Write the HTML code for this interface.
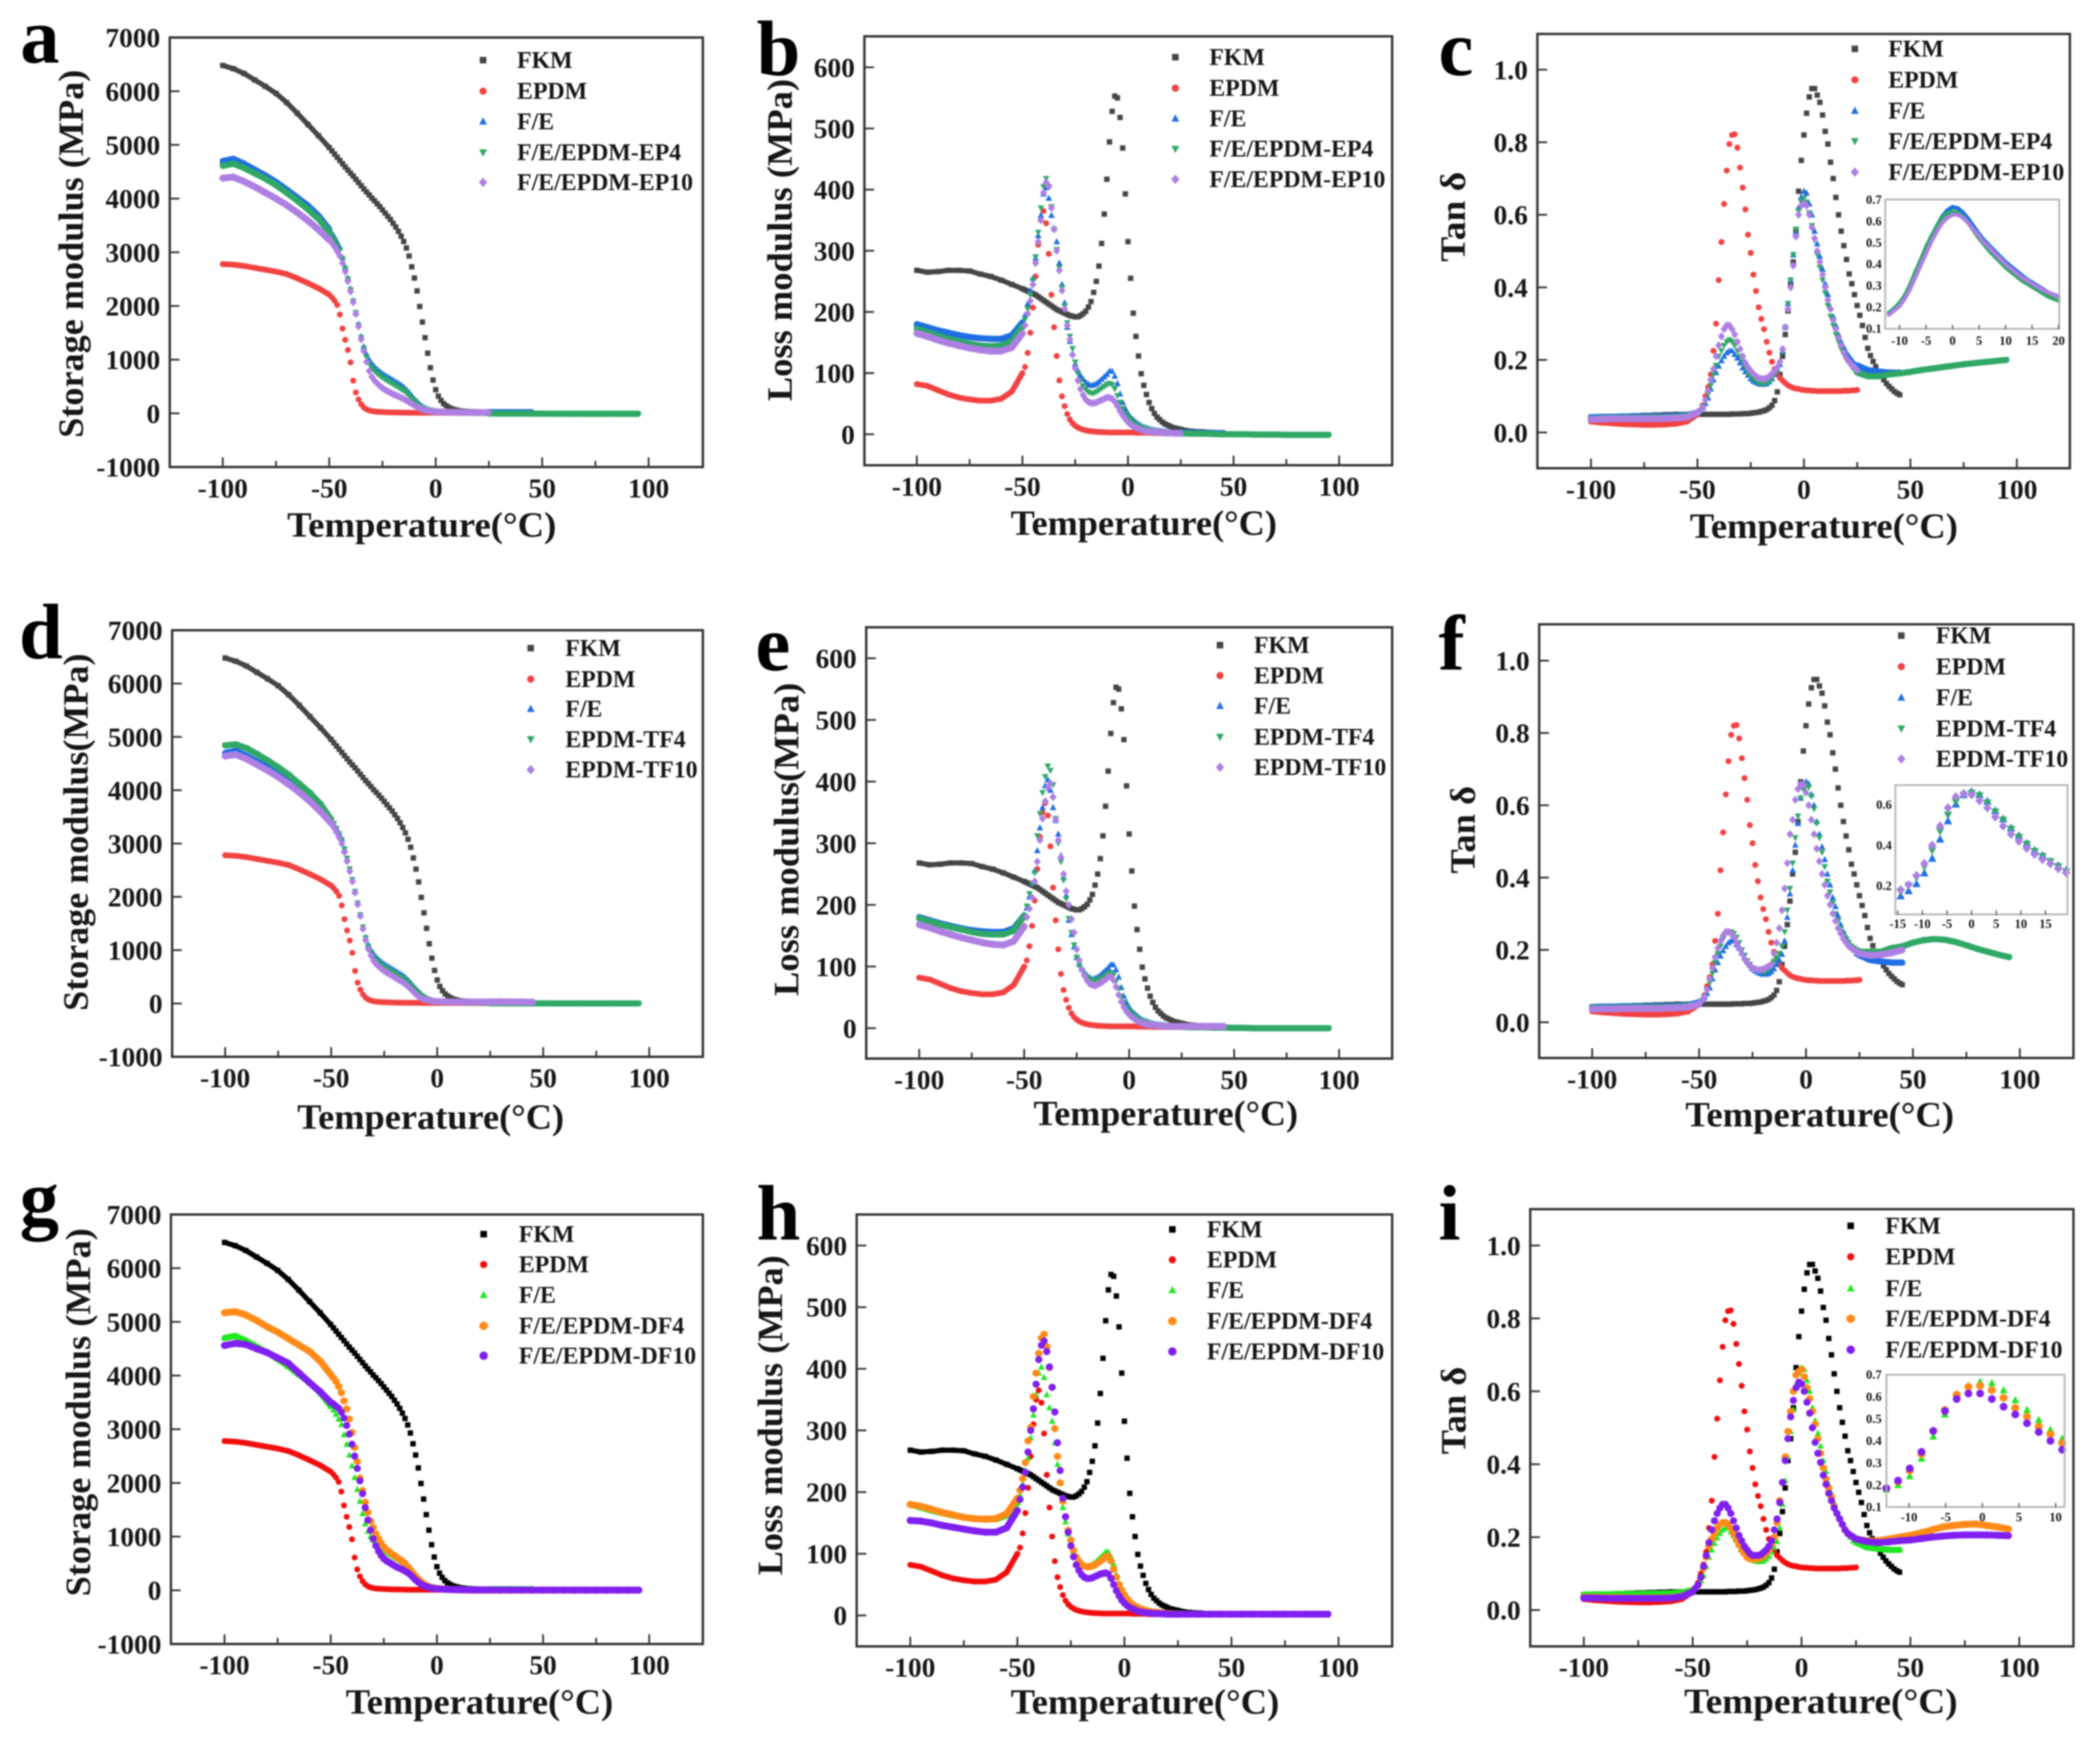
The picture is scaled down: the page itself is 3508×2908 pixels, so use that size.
<!DOCTYPE html>
<html lang="en">
<head>
<meta charset="utf-8">
<title>Dynamic mechanical analysis of FKM/EPDM blends</title>
<style>
html,body{margin:0;padding:0;background:#fff;width:3508px;height:2908px;overflow:hidden}
#figure{display:block;filter:blur(1.3px)}
text{font-family:"Liberation Serif","Noto Serif CJK SC",serif;font-weight:bold;fill:#161616}
.letter{font-size:132px;fill:#000}
.title{font-size:60px;text-anchor:middle}
.legend{font-size:40px}
</style>
</head>
<body>
<svg id="figure" xmlns="http://www.w3.org/2000/svg" width="3508" height="2908" viewBox="0 0 3508 2908">
<rect x="0" y="0" width="3508" height="2908" fill="#fff"/>

<g id="panel-a" transform="scale(0.995)">
<text class="letter" x="34" y="105">a</text>
<text class="title" transform="translate(119,426) rotate(-90)" dy="20" textLength="618" lengthAdjust="spacingAndGlyphs">Storage modulus (MPa)</text>
<text class="title" x="708" y="901" textLength="452" lengthAdjust="spacingAndGlyphs">Temperature(°C)</text>
<text class="legend" x="868" y="114">FKM</text>
<text class="legend" x="868" y="166">EPDM</text>
<text class="legend" x="868" y="217">F/E</text>
<text class="legend" x="868" y="269">F/E/EPDM-EP4</text>
<text class="legend" x="868" y="319">F/E/EPDM-EP10</text>
</g>

<g id="panel-b" transform="translate(1240,0) scale(0.995) translate(-1240,0)">
<text class="letter" x="1264" y="126">b</text>
<text class="title" transform="translate(1303,403) rotate(-90)" dy="20" textLength="541" lengthAdjust="spacingAndGlyphs">Loss modulus (MPa)</text>
<text class="title" x="1914" y="898" textLength="447" lengthAdjust="spacingAndGlyphs">Temperature(°C)</text>
<text class="legend" x="2024" y="109">FKM</text>
<text class="legend" x="2024" y="161">EPDM</text>
<text class="legend" x="2024" y="212">F/E</text>
<text class="legend" x="2024" y="263">F/E/EPDM-EP4</text>
<text class="legend" x="2024" y="314">F/E/EPDM-EP10</text>
</g>

<g id="panel-c" transform="translate(2400,0) scale(0.995) translate(-2400,0)">
<text class="letter" x="2403" y="126">c</text>
<text class="title" transform="translate(2427,364) rotate(-90)" dy="20" textLength="151" lengthAdjust="spacingAndGlyphs">Tan δ</text>
<text class="title" x="3050" y="903" textLength="450" lengthAdjust="spacingAndGlyphs">Temperature(°C)</text>
<text class="legend" x="3158" y="95">FKM</text>
<text class="legend" x="3158" y="147">EPDM</text>
<text class="legend" x="3158" y="199">F/E</text>
<text class="legend" x="3158" y="250">F/E/EPDM-EP4</text>
<text class="legend" x="3158" y="302">F/E/EPDM-EP10</text>
</g>

<g id="panel-d" transform="translate(0,1000) scale(0.995) translate(0,-1000)">
<text class="letter" x="32" y="1100">d</text>
<text class="title" transform="translate(127,1392) rotate(-90)" dy="20" textLength="600" lengthAdjust="spacingAndGlyphs">Storage modulus(MPa)</text>
<text class="title" x="723" y="1890" textLength="448" lengthAdjust="spacingAndGlyphs">Temperature(°C)</text>
<text class="legend" x="949" y="1096">FKM</text>
<text class="legend" x="949" y="1148">EPDM</text>
<text class="legend" x="949" y="1198">F/E</text>
<text class="legend" x="949" y="1249">EPDM-TF4</text>
<text class="legend" x="949" y="1300">EPDM-TF10</text>
</g>

<g id="panel-e" transform="translate(1240,1000) scale(0.995) translate(-1240,-1000)">
<text class="letter" x="1262" y="1120">e</text>
<text class="title" transform="translate(1314,1404) rotate(-90)" dy="20" textLength="526" lengthAdjust="spacingAndGlyphs">Loss modulus(MPa)</text>
<text class="title" x="1951" y="1884" textLength="444" lengthAdjust="spacingAndGlyphs">Temperature(°C)</text>
<text class="legend" x="2099" y="1091">FKM</text>
<text class="legend" x="2099" y="1142">EPDM</text>
<text class="legend" x="2099" y="1193">F/E</text>
<text class="legend" x="2099" y="1245">EPDM-TF4</text>
<text class="legend" x="2099" y="1296">EPDM-TF10</text>
</g>

<g id="panel-f" transform="translate(2400,1000) scale(0.995) translate(-2400,-1000)">
<text class="letter" x="2403" y="1119">f</text>
<text class="title" transform="translate(2444,1388) rotate(-90)" dy="20" textLength="147" lengthAdjust="spacingAndGlyphs">Tan δ</text>
<text class="title" x="3043" y="1886" textLength="451" lengthAdjust="spacingAndGlyphs">Temperature(°C)</text>
<text class="legend" x="3238" y="1075">FKM</text>
<text class="legend" x="3238" y="1127">EPDM</text>
<text class="legend" x="3238" y="1179">F/E</text>
<text class="legend" x="3238" y="1231">EPDM-TF4</text>
<text class="legend" x="3238" y="1282">EPDM-TF10</text>
</g>

<g id="panel-g" transform="translate(0,1948) scale(0.995) translate(0,-1948)">
<text class="letter" x="33" y="2046">g</text>
<text class="title" transform="translate(131,2361) rotate(-90)" dy="20" textLength="618" lengthAdjust="spacingAndGlyphs">Storage modulus (MPa)</text>
<text class="title" x="805" y="2867" textLength="449" lengthAdjust="spacingAndGlyphs">Temperature(°C)</text>
<text class="legend" x="871" y="2075">FKM</text>
<text class="legend" x="871" y="2126">EPDM</text>
<text class="legend" x="871" y="2177">F/E</text>
<text class="legend" x="871" y="2229">F/E/EPDM-DF4</text>
<text class="legend" x="871" y="2279">F/E/EPDM-DF10</text>
</g>

<g id="panel-h" transform="translate(1240,1950) scale(0.995) translate(-1240,-1950)">
<text class="letter" x="1264" y="2071">h</text>
<text class="title" transform="translate(1287,2366) rotate(-90)" dy="20" textLength="537" lengthAdjust="spacingAndGlyphs">Loss modulus (MPa)</text>
<text class="title" x="1916" y="2867" textLength="451" lengthAdjust="spacingAndGlyphs">Temperature(°C)</text>
<text class="legend" x="2020" y="2067">FKM</text>
<text class="legend" x="2020" y="2118">EPDM</text>
<text class="legend" x="2020" y="2169">F/E</text>
<text class="legend" x="2020" y="2221">F/E/EPDM-DF4</text>
<text class="legend" x="2020" y="2272">F/E/EPDM-DF10</text>
</g>

<g id="panel-i" transform="translate(2400,1950) scale(0.995) translate(-2400,-1950)">
<text class="letter" x="2403" y="2071">i</text>
<text class="title" transform="translate(2428,2358) rotate(-90)" dy="20" textLength="147" lengthAdjust="spacingAndGlyphs">Tan δ</text>
<text class="title" x="3045" y="2866" textLength="459" lengthAdjust="spacingAndGlyphs">Temperature(°C)</text>
<text class="legend" x="3153" y="2061">FKM</text>
<text class="legend" x="3153" y="2113">EPDM</text>
<text class="legend" x="3153" y="2166">F/E</text>
<text class="legend" x="3153" y="2217">F/E/EPDM-DF4</text>
<text class="legend" x="3153" y="2269">F/E/EPDM-DF10</text>
</g>
</svg>

<script>
// ---- temperature categories (°C) ----
const tempGrid = [-100,-95,-90,-85,-80,-75,-70,-65,-60,-55,
 -50, -48.75,-47.5,-46.25,-45, -43.75,-42.5,-41.25,-40, -38.75,-37.5,-36.25,-35, -33.75,-32.5,-31.25,-30,
 -28.75,-27.5,-26.25,-25, -23.75,-22.5,-21.25,-20, -18.75,-17.5,-16.25,-15, -13.75,-12.5,-11.25,-10,
 -8.75,-7.5,-6.25,-5, -3.75,-2.5,-1.25,0, 1.25,2.5,3.75,5, 6.25,7.5,8.75,10, 11.25,12.5,13.75,15,
 16.25,17.5,18.75,20, 21.25,22.5,23.75,25,
 30,35,40,45,50,55,60,65,70,75,80,85,90,95];
const fkmTanTemps = [-100,-95,-90,-85,-80,-75,-70,-65,-60,-55,
 -50, -48.75,-47.5,-46.25,-45, -43.75,-42.5,-41.25,-40, -38.75,-37.5,-36.25,-35, -33.75,-32.5,-31.25,-30,
 -28.75,-27.5,-26.25,-25, -23.75,-22.5,-21.25,-20, -18.75,-17.5,-16.25,-15, -13.75,-12.5,-11.25,-10,
 -8.75,-7.5,-6.25,-5, -3.75,-2.5,-1.25,0, 1.25,2.5,3.75,5, 6.25,7.5,8.75,10, 11.25,12.5,13.75,15,
 16.25,17.5,18.75,20, 21.25,22.5,23.75,25,
 26.25,27.5,28.75,30, 31.25,32.5,33.75,35, 36.25,37.5,38.75,40, 41.25,42.5,43.75,45];

// ---- tick values and labels ----
const xTicks = [-100,-50,0,50,100];
const xTickLabels = ['-100','-50','0','50','100'];
const xMinorTicks = [-75,-25,25,75];
const storageTicks = [-1000,0,1000,2000,3000,4000,5000,6000,7000];
const storageTickLabels = ['-1000','0','1000','2000','3000','4000','5000','6000','7000'];
const lossTicks = [0,100,200,300,400,500,600];
const lossTickLabels = ['0','100','200','300','400','500','600'];
const tanTicks = [0,0.2,0.4,0.6,0.8,1.0];
const tanTickLabels = ['0.0','0.2','0.4','0.6','0.8','1.0'];

// ---- storage modulus series (MPa) ----
const fkmStorage = [6480,6420,6330,6210,6090,5960,5790,5590,5380,5170,
 4950, 4890,4830,4770,4710, 4650,4590,4530,4475, 4420,4360,4300,4240, 4180,4125,4070,4010,
 3960,3905,3850,3790, 3730,3670,3610,3540, 3470,3390,3300,3200, 3080,2930,2730,2520,
 2280,1990,1700,1410, 1120,850,620,440, 320,240,180,140, 110,85,70,58, 48,42,36,32, 28,25,22,20, 19,18,17,16,
 14,13,12,11];
const epdmStorage = [2780,2770,2745,2710,2675,2640,2595,2515,2425,2330,
 2210, 2160,2100,2020,1840, 1580,1370,1180,950, 610,390,260,170, 110,75,55,42,
 35,30,27,25, 22,20,18,17, 16,15,14,13, 12,12,11,11, 11,10,10,10, 10,10,10,10, 10,10,10,10, 10,10,10,10, 10,10,10,10, 10,10,10,10, 10,10,10,10];
const feStorage = [4700,4740,4650,4540,4430,4310,4170,4020,3870,3680,
 3430, 3360,3280,3190,3090, 2900,2720,2520,2320, 2100,1880,1660,1430, 1240,1100,1000,930,
 870,820,780,740, 710,680,650,620, 590,560,530,490, 440,390,330,270,
 220,170,130,100, 80,65,55,48, 42,38,35,33, 31,30,29,28, 27,26,25,25, 24,24,23,23, 22,22,22,22,
 21,21,20,20];
const ep4Storage = [4610,4650,4570,4470,4370,4250,4110,3960,3800,3620,
 3380, 3310,3230,3140,3040, 2880,2700,2500,2300, 2090,1870,1640,1410, 1210,1050,930,850,
 790,740,700,660, 630,600,570,540, 510,480,450,420, 380,330,280,230,
 180,140,105,80, 62,50,42,36, 30,26,22,18, 15,12,10,8, 6,5,4,3, 2,1,0,0, -1,-1,-2,-2,
 -3,-4,-5,-6,-6,-7,-7,-8,-8,-8,-8,-8,-8,-8];
const ep10Storage = [4380,4400,4320,4220,4110,4000,3880,3740,3590,3420,
 3230, 3170,3100,3020,2930, 2800,2640,2460,2270, 2070,1850,1620,1380, 1160,960,790,680,
 610,560,510,470, 440,410,385,360, 335,315,290,270, 240,210,180,150,
 120,95,75,60, 48,40,34,30, 28,26,25,24, 23,22,21,20, 19,18,18,17, 17,16,16,16, 15,15,15,15];
const tf4Storage = [4840,4860,4790,4680,4560,4430,4290,4120,3950,3740,
 3450, 3370,3280,3180,3070, 2900,2720,2520,2320, 2100,1880,1660,1430, 1230,1070,960,870,
 810,760,720,680, 650,620,590,560, 530,500,470,430, 390,340,290,240,
 190,150,115,85, 65,50,40,32, 30,28,26,24, 22,20,18,16, 14,12,10,9, 8,7,6,5, 4,4,3,3,
 3,2,2,2,2,1,1,1,1,0,0,0,0,0];
const tf10Storage = [4640,4670,4590,4480,4370,4250,4110,3960,3790,3600,
 3380, 3300,3210,3110,3000, 2840,2670,2480,2290, 2080,1860,1640,1400, 1190,1020,900,800,
 740,690,650,610, 580,550,520,490, 460,430,400,360, 320,270,220,170,
 130,100,80,65, 55,48,42,38, 36,35,34,33, 32,32,31,31, 30,30,30,30, 30,30,30,30, 30,30,30,30,
 30,30,28,25];
const df4Storage = [5170,5190,5130,5030,4910,4810,4690,4570,4450,4270,
 4020, 3960,3890,3800,3680, 3530,3380,3190,2940, 2660,2400,2090,1860, 1640,1450,1290,1170,
 1050,960,880,810, 760,720,680,650, 610,580,540,500, 440,380,320,260,
 210,165,125,95, 70,55,42,35, 30,26,22,19, 16,14,12,10, 9,8,7,6, 5,5,4,4, 3,3,3,3,
 2,2,2,2,2,2,2,2,2,2,2,2,2,2];
const df10Storage = [4560,4600,4580,4500,4430,4330,4230,4050,3870,3700,
 3500, 3470,3430,3390,3320, 3210,3070,2910,2720, 2500,2270,2040,1800, 1540,1310,1120,960,
 830,730,650,590, 550,520,490,460, 430,410,385,360, 330,290,240,190,
 150,115,90,70, 55,42,35,28, 25,22,20,18, 16,14,13,12, 11,10,10,9, 9,8,8,8, 7,7,7,7,
 6,6,6,5,5,5,5,4,4,4,4,4,4,4];

// ---- loss modulus series (MPa) ----
const fkmLoss = [268,265,266,268,268,267,262,258,252,245,
 238, 236,234,232,230, 228,225,222,219, 216,213,210,207, 204,202,200,198,
 196,194,193,192, 192,194,197,201, 208,217,232,250, 275,312,360,417,
 478,528,553,550, 518,468,393,315, 255,198,160,128, 99,80,65,52, 42,34,28,24, 20,17,15,13, 11,10,9,8,
 5,4,3,2];
const epdmLoss = [82,79,72,65,60,57,55,55,58,70,
 100, 110,133,166,207, 258,310,350,365, 345,295,228,175, 128,88,62,46,
 33,24,18,14, 11,9,7.5,6.5, 5.5,5,4.5,4, 3.8,3.6,3.4,3.2, 3,3,3,3, 3,3,3,3, 3,3,2.5,2.5, 2.5,2.5,2.5,2.5, 2,2,2,2, 2,2,2,2, 2,2,2,2];
const feLoss = [180,175,170,166,162,159,157,156,156,162,
 183, 195,213,235,255, 288,325,358,393, 403,386,358,337, 315,280,245,215,
 175,152,132,115, 104,96,90,85, 82,80,81,83, 86,90,94,98, 103,103,95,83, 66,52,42,34, 28,24,20,17, 14,12,11,9, 8,7,6.5,6, 5.5,5,4.5,4, 3.5,3.5,3,3,
 2.5,2,2,2];
const ep4Loss = [172,167,161,156,152,148,145,144,145,152,
 176, 188,205,228,252, 290,330,370,405, 418,405,372,335, 302,272,240,210,
 182,160,140,118, 100,88,79,73, 69,67,67,69, 72,75,78,81, 83,81,74,63, 52,42,34,28, 23,19,16,13, 11,9,8,7, 6,5,4.5,4, 3.5,3,2.5,2, 2,2,1.5,1.5,
 1,1,0.5,0,0,0,-0.5,-0.5,-0.5,-1,-1,-1,-1,-1];
const ep10Loss = [165,160,154,149,145,141,138,136,136,142,
 165, 178,197,218,245, 280,315,350,395, 412,405,370,335, 300,268,235,205,
 178,155,130,108, 88,74,64,57, 53,51,51,52, 54,56,58,60, 60,58,53,46, 38,31,25,20, 16,13,11,9, 7.5,6,5,4.5, 4,3.5,3,3, 2.5,2.5,2,2, 2,1.5,1.5,1.5];
const tf4Loss = [178,173,168,164,160,156,153,152,152,158,
 182, 198,218,235,252, 312,348,382,408, 425,418,395,340, 300,270,240,210,
 178,155,135,115, 102,94,87,83, 79,77,77,78, 80,82,85,88, 90,86,76,65, 52,42,34,28, 23,19,16,13, 11,10,8.5,7.5, 6.5,5.5,5,4.5, 4,3.5,3,3, 2.5,2.5,2,2,
 1.5,1.5,1,1,0.5,0.5,0,0,0,0,0,0,0,0];
const tf10Loss = [168,163,157,152,147,143,139,136,135,141,
 165, 180,194,212,238, 270,305,340,368, 390,397,375,338, 305,277,250,222,
 200,177,155,128, 110,95,85,77, 72,70,69,71, 73,76,79,83, 84,78,67,54, 43,34,27,22, 18,15,12,10, 8,7,6,5.5, 5,4.5,4,3.5, 3.5,3,3,3, 3,3,3,3,
 3,3,3,3];
const df4Loss = [180,177,172,167,163,159,157,156,157,165,
 190, 203,222,248,283, 305,355,393,425, 450,456,436,402, 370,303,258,215,
 185,160,138,122, 106,95,88,83, 80,79,79,80, 82,85,88,91, 95,96,88,75, 62,50,41,33, 27,22,18,15, 13,11,9.5,8, 7,6,5.5,5, 4.5,4,3.5,3, 3,2.5,2.5,2,
 2,2,2,2,2,2,2,2,2,2,2,2,2,2];
const df10Loss = [154,153,150,146,143,140,137,135,135,142,
 170, 188,208,232,265, 300,335,375,415, 438,445,428,403, 370,330,280,235,
 190,160,135,113, 95,82,73,66, 62,60,60,61, 63,65,67,68, 69,67,60,50, 40,32,25,20, 16,13,11,9, 7,6,5,4.5, 4,3.5,3,3, 3,2.5,2.5,2, 2,2,2,2,
 2,2,2,2,2,2,2,2,2,2,2,2,2,2];

// ---- tan delta series ----
const fkmTan = [.042,.043,.044,.045,.046,.047,.048,.049,.05,.05,
 .05, .05,.05,.05,.05, .05,.05,.05,.05, .05,.05,.05,.05, .051,.051,.051,.051,
 .052,.052,.052,.053, .054,.055,.056,.058, .06,.063,.068,.075, .088,.112,.16,.21,
 .27,.335,.41,.47, .555,.665,.75,.82, .88,.925,.948,.948, .93,.91,.875,.83, .795,.745,.70,.648, .60,.555,.515,.477, .437,.41,.38,.35,
 .323,.295,.262,.232, .212,.196,.181,.168, .156,.145,.135,.127, .12,.113,.108,.104];
const epdmTan = [.030,.027,.025,.023,.022,.021,.021,.022,.024,.03,
 .05, .06,.075,.10,.125, .16,.225,.30,.42, .525,.63,.722,.795, .82,.822,.785,.73,
 .675,.615,.545,.495, .435,.39,.345,.313, .285,.25,.22,.195, .175,.16,.15,.143,
 .136,.13,.126,.123, .121,.12,.118,.117, .116,.116,.115,.115, .114,.114,.114,.114, .114,.114,.114,.114, .114,.114,.115,.115, .115,.116,.116,.117];
const feTan = [.042,.043,.043,.044,.044,.044,.045,.045,.046,.048,
 .055, .06,.068,.08,.095, .12,.145,.165,.183, .198,.21,.22,.225, .225,.215,.205,.192,
 .178,.168,.158,.148, .142,.138,.135,.133, .133,.135,.14,.148, .16,.172,.188,.225,
 .29,.355,.42,.49, .55,.62,.65,.665, .66,.63,.60,.555, .52,.485,.45,.41, .38,.345,.32,.295, .27,.25,.235,.22, .21,.20,.19,.185,
 .172,.168,.165,.165];
const ep4Tan = [.038,.04,.04,.041,.041,.041,.042,.042,.043,.046,
 .055, .06,.07,.085,.105, .13,.16,.185,.21, .225,.24,.25,.255, .25,.24,.225,.21,
 .195,.18,.165,.155, .148,.142,.138,.135, .135,.137,.142,.15, .16,.172,.19,.225,
 .29,.355,.42,.49, .56,.61,.635,.645, .635,.605,.57,.53, .49,.455,.42,.385, .35,.32,.295,.27, .25,.23,.215,.20, .19,.18,.172,.165,
 .155,.155,.16,.163,.167,.172,.176,.18,.184,.188,.191,.194,.197,.20];
const ep10Tan = [.036,.037,.038,.038,.038,.038,.038,.039,.04,.042,
 .055, .06,.07,.09,.115, .145,.175,.21,.24, .265,.285,.295,.295, .285,.27,.25,.23,
 .21,.192,.18,.17, .162,.155,.15,.148, .148,.15,.155,.162, .17,.18,.195,.23,
 .29,.34,.40,.46, .54,.60,.625,.632, .625,.60,.565,.535, .50,.47,.435,.40, .365,.34,.31,.285, .26,.24,.22,.205, .195,.185,.18,.172];
const tf4Tan = [.04,.04,.04,.041,.041,.041,.042,.042,.043,.046,
 .05, .06,.07,.09,.11, .135,.165,.19,.21, .23,.245,.25,.25, .245,.235,.22,.20,
 .185,.17,.16,.15, .145,.142,.14,.14, .14,.145,.155,.168, .178,.19,.21,.25,
 .31,.37,.44,.51, .57,.62,.645,.655, .65,.625,.59,.55, .51,.47,.43,.39, .36,.33,.30,.28, .26,.245,.23,.22, .21,.205,.20,.195,
 .195,.195,.205,.21,.22,.227,.23,.228,.222,.213,.203,.195,.187,.18];
const tf10Tan = [.036,.037,.037,.038,.038,.038,.038,.039,.04,.042,
 .05, .06,.07,.09,.12, .15,.18,.205,.225, .24,.25,.25,.245, .235,.22,.205,.19,
 .175,.165,.155,.15, .147,.145,.145,.147, .15,.155,.16,.19, .22,.26,.31,.37,
 .44,.52,.56,.615, .645,.658,.655,.635, .60,.56,.52,.48, .445,.41,.38,.35, .325,.30,.28,.26, .245,.23,.22,.21, .205,.20,.195,.19,
 .185,.187,.192,.20];
const df4Tan = [.035,.035,.034,.034,.033,.033,.033,.033,.034,.038,
 .05, .06,.07,.09,.115, .145,.175,.195,.21, .225,.235,.24,.24, .235,.225,.21,.195,
 .18,.165,.155,.145, .14,.14,.14,.14, .143,.148,.155,.165, .18,.20,.24,.30,
 .35,.42,.49,.545, .60,.645,.655,.66, .64,.61,.58,.545, .51,.47,.43,.39, .36,.335,.31,.285, .265,.25,.235,.22, .21,.205,.20,.195,
 .19,.19,.195,.20,.205,.212,.22,.228,.232,.235,.236,.232,.228,.222];
const df10Tan = [.033,.033,.032,.032,.032,.032,.032,.032,.033,.037,
 .05, .06,.07,.09,.12, .15,.185,.22,.245, .265,.28,.29,.29, .28,.265,.245,.225,
 .205,.19,.175,.165, .155,.15,.15,.15, .152,.158,.165,.175, .19,.22,.25,.295,
 .35,.41,.47,.53, .575,.61,.625,.62, .60,.57,.54,.50, .46,.43,.405,.37, .345,.32,.30,.28, .265,.25,.235,.22, .21,.205,.20,.195,
 .188,.185,.187,.19,.192,.196,.2,.203,.205,.206,.206,.206,.205,.204];

// ---- inset series ----
const insetCTemps = [-12,-11,-10,-9,-8,-7,-6,-5,-4,-3,-2,-1,0,1,2,3,4,5,6,7,8,9,10,11,12,13,14,15,16,17,18,19,20];
const insetCFe = [.17,.19,.215,.25,.30,.36,.415,.47,.525,.575,.62,.65,.666,.66,.64,.61,.575,.54,.51,.485,.46,.435,.41,.39,.37,.35,.33,.316,.30,.285,.27,.26,.25];
const insetCEp4 = [.175,.195,.22,.255,.305,.365,.42,.48,.53,.575,.615,.635,.645,.64,.62,.59,.555,.52,.49,.46,.435,.41,.385,.365,.345,.325,.31,.295,.28,.265,.25,.24,.23];
const insetCEp10 = [.165,.185,.205,.24,.285,.34,.395,.45,.505,.55,.59,.615,.63,.63,.615,.59,.56,.53,.50,.475,.45,.425,.40,.38,.36,.34,.325,.31,.295,.28,.27,.26,.245];
const insetFTemps = [-14.4,-12.8,-11.2,-9.6,-8,-6.4,-4.8,-3.2,-1.6,0,1.6,3.2,4.8,6.4,8,9.6,11.2,12.8,14.4,16,17.6,19.2];
const insetFFe = [.15,.175,.21,.263,.335,.43,.52,.603,.65,.665,.65,.617,.57,.53,.485,.447,.41,.375,.35,.32,.30,.277];
const insetFTf4 = [.17,.20,.24,.295,.375,.47,.55,.615,.648,.658,.645,.61,.565,.525,.48,.44,.405,.37,.345,.32,.295,.27];
const insetFTf10 = [.18,.205,.25,.31,.40,.495,.585,.64,.655,.65,.62,.585,.54,.495,.455,.42,.385,.355,.33,.31,.285,.265];
const insetITemps = [-13.1,-11.5,-9.9,-8.3,-6.7,-5.1,-3.5,-1.9,-0.3,1.3,2.9,4.5,6.1,7.7,9.3,10.9];
const insetIFe = [.18,.20,.24,.32,.42,.52,.61,.65,.668,.662,.63,.585,.54,.495,.45,.41];
const insetIDf4 = [.185,.215,.265,.34,.445,.54,.61,.645,.65,.63,.595,.55,.51,.465,.43,.39];
const insetIDf10 = [.185,.22,.275,.35,.445,.535,.59,.615,.615,.59,.555,.52,.48,.44,.40,.36];
const insetCXTicks = [-10,-5,0,5,10,15,20];
const insetFXTicks = [-15,-10,-5,0,5,10,15];
const insetIXTicks = [-10,-5,0,5,10];
const insetCYTicks = [0.1,0.2,0.3,0.4,0.5,0.6,0.7];
const insetFYTicks = [0.2,0.4,0.6];

// ---- styling (not data) ----
const NS = 'http://www.w3.org/2000/svg';
const FKM1 = {name:'fkm', color:'#454545', shape:'square', size:9};
const EPDM1 = {name:'epdm', color:'#f24141', shape:'circle', size:10};
const FE1 = {name:'fe', color:'#1f6fe3', shape:'up', size:11};
const G1 = {color:'#2fa866', shape:'down', size:11};
const P1 = {color:'#ae7fe3', shape:'diamond', size:12};
const FKM3 = {name:'fkm', color:'#000000', shape:'square', size:9};
const EPDM3 = {name:'epdm', color:'#f20d0d', shape:'circle', size:10};
const FE3 = {name:'fe', color:'#1fe81f', shape:'up', size:11};
const O3 = {color:'#ff8a17', shape:'hex', size:12};
const V3 = {color:'#7f1ff0', shape:'circle', size:12};

function named(style, name){ return Object.assign({}, style, {name:name}); }

const storageAxis = {ticks:storageTicks, labels:storageTickLabels};
const lossAxis = {ticks:lossTicks, labels:lossTickLabels};
const tanAxis = {ticks:tanTicks, labels:tanTickLabels};

const panels = [
 {id:'panel-a', left:285,right:1180,top:63,bottom:784, xA:374,xB:1089, vA:-1000,pA:784,vB:7000,pB:63, axis:storageAxis, mx:811, my:[101,153,204,256,306],
  series:[[FKM1,fkmStorage],[EPDM1,epdmStorage],[FE1,feStorage],[named(G1,'ep4'),ep4Storage],[named(P1,'ep10'),ep10Storage]]},
 {id:'panel-b', left:1445,right:2331,top:61,bottom:781, xA:1533,xB:2242, vA:0,pA:729,vB:600,pB:113, axis:lossAxis, mx:1967, my:[96,148,199,250,301],
  series:[[FKM1,fkmLoss],[EPDM1,epdmLoss],[FE1,feLoss],[named(G1,'ep4'),ep4Loss],[named(P1,'ep10'),ep10Loss]]},
 {id:'panel-c', left:2569,right:3463,top:57,bottom:786, xA:2659,xB:3374, vA:0,pA:726,vB:1,pB:117, axis:tanAxis, mx:3102, my:[82,134,186,237,289],
  series:[[FKM1,fkmTan,fkmTanTemps],[EPDM1,epdmTan],[FE1,feTan],[named(G1,'ep4'),ep4Tan],[named(P1,'ep10'),ep10Tan]],
  inset:{left:3153,right:3445,top:335,bottom:552, tA:0,xA:3266,tB:20,xB:3444, vA:0.1,pA:552,vB:0.7,pB:335, xTicks:insetCXTicks, yTicks:insetCYTicks, labelY:579, labelX:3147, size:7, connect:0.5, temps:insetCTemps,
   series:[[FE1,insetCFe],[named(G1,'ep4'),insetCEp4],[named(P1,'ep10'),insetCEp10]]}},
 {id:'panel-d', left:289,right:1180,top:1053,bottom:1769, xA:378,xB:1090, vA:-1000,pA:1769,vB:7000,pB:1053, axis:storageAxis, mx:891, my:[1083,1135,1185,1236,1287],
  series:[[FKM1,fkmStorage],[EPDM1,epdmStorage],[FE1,feStorage],[named(G1,'tf4'),tf4Storage],[named(P1,'tf10'),tf10Storage]]},
 {id:'panel-e', left:1448,right:2331,top:1048,bottom:1772, xA:1537,xB:2242, vA:0,pA:1721,vB:600,pB:1100, axis:lossAxis, mx:2042, my:[1078,1129,1180,1232,1283],
  series:[[FKM1,fkmLoss],[EPDM1,epdmLoss],[FE1,feLoss],[named(G1,'tf4'),tf4Loss],[named(P1,'tf10'),tf10Loss]]},
 {id:'panel-f', left:2572,right:3469,top:1043,bottom:1771, xA:2661,xB:3379, vA:0,pA:1711,vB:1,pB:1104, axis:tanAxis, mx:3180, my:[1062,1114,1166,1218,1269],
  series:[[FKM1,fkmTan,fkmTanTemps],[EPDM1,epdmTan],[FE1,feTan],[named(G1,'tf4'),tf4Tan],[named(P1,'tf10'),tf10Tan]],
  inset:{left:3170,right:3459,top:1313,bottom:1530, tA:0,xA:3298,tB:15,xB:3422, vA:0.2,pA:1482,vB:0.6,pB:1346, xTicks:insetFXTicks, yTicks:insetFYTicks, labelY:1553, labelX:3164, size:14, connect:99, temps:insetFTemps,
   series:[[FE1,insetFFe],[named(G1,'tf4'),insetFTf4],[named(P1,'tf10'),insetFTf10]]}},
 {id:'panel-g', left:287,right:1180,top:2029,bottom:2750, xA:377,xB:1090, vA:-1000,pA:2750,vB:7000,pB:2029, axis:storageAxis, mx:812, my:[2062,2113,2164,2216,2266],
  series:[[FKM3,fkmStorage],[EPDM3,epdmStorage],[FE3,feStorage],[named(O3,'df4'),df4Storage],[named(V3,'df10'),df10Storage]]},
 {id:'panel-h', left:1432,right:2331,top:2029,bottom:2754, xA:1522,xB:2241, vA:0,pA:2702,vB:600,pB:2081, axis:lossAxis, mx:1962, my:[2054,2105,2156,2208,2259],
  series:[[FKM3,fkmLoss],[EPDM3,epdmLoss],[FE3,feLoss],[named(O3,'df4'),df4Loss],[named(V3,'df10'),df10Loss]]},
 {id:'panel-i', left:2557,right:3469,top:2020,bottom:2754, xA:2647,xB:3378, vA:0,pA:2693,vB:1,pB:2081, axis:tanAxis, mx:3095, my:[2048,2100,2153,2204,2256],
  series:[[FKM3,fkmTan,fkmTanTemps],[EPDM3,epdmTan],[FE3,feTan],[named(O3,'df4'),df4Tan],[named(V3,'df10'),df10Tan]],
  inset:{left:3155,right:3454,top:2298,bottom:2520, tA:0,xA:3316,tB:10,xB:3439, vA:0.1,pA:2520,vB:0.7,pB:2298, xTicks:insetIXTicks, yTicks:insetCYTicks, labelY:2544, labelX:3147, size:13, connect:99, temps:insetITemps,
   series:[[FE3,insetIFe],[named(O3,'df4'),insetIDf4],[named(V3,'df10'),insetIDf10]]}}
];

function linear(d0, r0, d1, r1){
  return function(v){ return r0 + (v - d0) * (r1 - r0) / (d1 - d0); };
}

function shapePath(shape, cx, cy, s){
  const h = s / 2;
  if (shape === 'square') return 'M'+(cx-h)+' '+(cy-h)+'h'+s+'v'+s+'h'+(-s)+'z';
  if (shape === 'circle') return 'M'+(cx-h)+' '+cy+'a'+h+' '+h+' 0 1 0 '+s+' 0a'+h+' '+h+' 0 1 0 '+(-s)+' 0z';
  if (shape === 'up') return 'M'+cx+' '+(cy-h*1.1)+'L'+(cx+h)+' '+(cy+h*0.8)+'L'+(cx-h)+' '+(cy+h*0.8)+'z';
  if (shape === 'down') return 'M'+cx+' '+(cy+h*1.1)+'L'+(cx+h)+' '+(cy-h*0.8)+'L'+(cx-h)+' '+(cy-h*0.8)+'z';
  if (shape === 'diamond') return 'M'+cx+' '+(cy-h*1.15)+'L'+(cx+h)+' '+cy+'L'+cx+' '+(cy+h*1.15)+'L'+(cx-h)+' '+cy+'z';
  return 'M'+cx+' '+(cy-h*1.1)+'L'+(cx+h)+' '+(cy-h*0.5)+'L'+(cx+h)+' '+(cy+h*0.5)+'L'+cx+' '+(cy+h*1.1)+'L'+(cx-h)+' '+(cy+h*0.5)+'L'+(cx-h)+' '+(cy-h*0.5)+'z';
}

function addMarker(parent, style, cx, cy, s){
  const mark = document.createElementNS(NS, 'path');
  mark.setAttribute('d', shapePath(style.shape, cx, cy, s));
  mark.setAttribute('fill', style.color);
  
  
  parent.appendChild(mark);
}

function addLine(parent, x1, y1, x2, y2, color, width, label){
  const ln = document.createElementNS(NS, 'line');
  ln.setAttribute('x1', x1);
  ln.setAttribute('y1', y1);
  ln.setAttribute('x2', x2);
  ln.setAttribute('y2', y2);
  ln.setAttribute('stroke', color);
  ln.setAttribute('stroke-width', width);
  ln.setAttribute('stroke-linecap', 'round');
  
  
  parent.appendChild(ln);
}

function addText(parent, str, x, y, size, anchor, label){
  const t = document.createElementNS(NS, 'text');
  t.textContent = str;
  t.setAttribute('x', x);
  t.setAttribute('y', y);
  t.setAttribute('font-size', size);
  t.setAttribute('text-anchor', anchor);
  
  
  parent.appendChild(t);
}

function addFrame(parent, p, color, width, label){
  const r = document.createElementNS(NS, 'rect');
  r.setAttribute('x', p.left);
  r.setAttribute('y', p.top);
  r.setAttribute('width', p.right - p.left);
  r.setAttribute('height', p.bottom - p.top);
  r.setAttribute('fill', 'none');
  r.setAttribute('stroke', color);
  r.setAttribute('stroke-width', width);
  
  
  parent.appendChild(r);
}

function drawSeries(parent, style, temps, values, sx, sy, size, connectAbove){
  const g = document.createElementNS(NS, 'g');
  
  
  parent.appendChild(g);
  const n = Math.min(temps.length, values.length);
  for (let i = 1; i < n; i++) {
    if (temps[i] - temps[i-1] > connectAbove) {
      addLine(g, sx(temps[i-1]), sy(values[i-1]), sx(temps[i]), sy(values[i]), style.color, size * 0.95, 'series-' + style.name + '-segment');
    }
  }
  for (let i = 0; i < n; i++) {
    addMarker(g, style, sx(temps[i]), sy(values[i]), size);
  }
}

function drawInset(parent, inset){
  const g = document.createElementNS(NS, 'g');
  
  
  parent.appendChild(g);
  const r = document.createElementNS(NS, 'rect');
  r.setAttribute('x', inset.left);
  r.setAttribute('y', inset.top);
  r.setAttribute('width', inset.right - inset.left);
  r.setAttribute('height', inset.bottom - inset.top);
  r.setAttribute('fill', '#fff');
  
  
  g.appendChild(r);
  const sx = linear(inset.tA, inset.xA, inset.tB, inset.xB);
  const sy = linear(inset.vA, inset.pA, inset.vB, inset.pB);
  inset.series.forEach(function(s){ drawSeries(g, s[0], inset.temps, s[1], sx, sy, inset.size, inset.connect); });
  addFrame(g, inset, '#b4b4b4', 3, 'inset-frame');
  inset.xTicks.forEach(function(t){
    addLine(g, sx(t), inset.bottom, sx(t), inset.bottom - 6, '#555', 2, 'inset-x-tick');
    addText(g, String(t), sx(t), inset.labelY, 21, 'middle', 'inset-x-tick-label');
  });
  inset.yTicks.forEach(function(v){
    addText(g, v.toFixed(1), inset.labelX, sy(v) + 7, 21, 'end', 'inset-y-tick-label');
  });
}

panels.forEach(function(p){
  const root = document.getElementById(p.id);
  const sx = linear(-100, p.xA, 100, p.xB);
  const sy = linear(p.vA, p.pA, p.vB, p.pB);
  p.series.forEach(function(s, i){
    drawSeries(root, s[0], s[2] || tempGrid, s[1], sx, sy, s[0].size, 2);
    addMarker(root, s[0], p.mx, p.my[i], s[0].size + 2);
  });
  if (p.inset) drawInset(root, p.inset);
  addFrame(root, p, '#333', 4, 'plot-frame');
  xTicks.forEach(function(t, i){
    addLine(root, sx(t), p.bottom, sx(t), p.bottom - 15, '#333', 3, 'x-major-tick');
    addText(root, xTickLabels[i], sx(t), p.bottom + 51, 46, 'middle', 'x-tick-label');
  });
  xMinorTicks.forEach(function(t){
    addLine(root, sx(t), p.bottom, sx(t), p.bottom - 9, '#333', 3, 'x-minor-tick');
  });
  p.axis.ticks.forEach(function(v, i){
    addLine(root, p.left, sy(v), p.left + 15, sy(v), '#333', 3, 'y-major-tick');
    addText(root, p.axis.labels[i], p.left - 16, sy(v) + 16, 46, 'end', 'y-tick-label');
  });
});
</script>
</body>
</html>
